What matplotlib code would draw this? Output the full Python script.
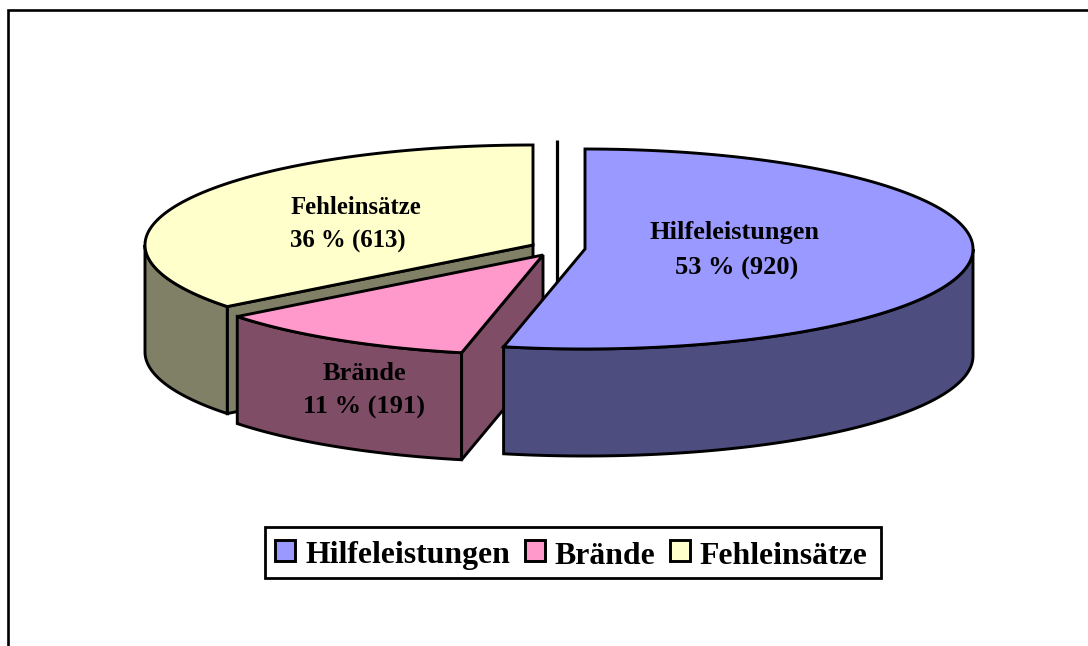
import numpy as np
import matplotlib
matplotlib.use("Agg")
import matplotlib.pyplot as plt
from matplotlib.patches import Polygon, Patch, Rectangle

categories = ["Hilfeleistungen", "Brände", "Fehleinsätze"]
values = [920, 191, 613]
percents = [53, 11, 36]
top_colors = ["#9999FF", "#FF99CC", "#FFFFCC"]
side_colors = ["#4D4D80", "#804D66", "#808066"]

# layout in pixels of the 1088x646 canvas
tips = [(585, 249), (543, 255), (533, 245)]
RX, RY, DEPTH = 388, 100, 107
LW = 2.1

fig = plt.figure(figsize=(10.88, 6.46), dpi=100)
ax = fig.add_axes([0, 0, 1, 1])
ax.set_xlim(0, 1088)
ax.set_ylim(646, 0)
ax.axis("off")

plt.rcParams["font.family"] = ["Liberation Serif", "DejaVu Serif"]

ax.plot([8, 8, 1088], [646, 10, 10], color="black", lw=1.9,
        solid_joinstyle="miter", zorder=1)

edges = np.cumsum([0] + values) / sum(values) * 2 * np.pi


def rim(tip, a, b):
    t = np.linspace(a, b, 200)
    return tip[0] + RX * np.sin(t), tip[1] - RY * np.cos(t)


def poly(xs, ys, color, z):
    ax.add_patch(Polygon(np.column_stack([xs, ys]), closed=True, facecolor=color,
                         edgecolor="black", lw=LW, joinstyle="miter", zorder=z))


def outer_wall(tip, a, b, color, z):
    x, y = rim(tip, a, b)
    poly(np.r_[x, x[::-1]], np.r_[y, y[::-1] + DEPTH], color, z)


def radial_wall(tip, a, color, z):
    x, y = rim(tip, a, a)
    ex, ey = x[0], y[0]
    poly([tip[0], ex, ex, tip[0]], [tip[1], ey, ey + DEPTH, tip[1] + DEPTH], color, z)


def top(tip, a, b, color, z):
    x, y = rim(tip, a, b)
    poly(np.r_[tip[0], x], np.r_[tip[1], y], color, z)


# Fehleinsätze (back piece)
radial_wall(tips[2], edges[2], side_colors[2], 2)
outer_wall(tips[2], edges[2], 1.5 * np.pi, side_colors[2], 2.1)
top(tips[2], edges[2], edges[3], top_colors[2], 2.2)
# Brände
outer_wall(tips[1], edges[1], edges[2], side_colors[1], 3)
radial_wall(tips[1], edges[1], side_colors[1], 3.1)
top(tips[1], edges[1], edges[2], top_colors[1], 3.2)
# vertical rule behind the blue piece
ax.plot([557, 557], [140, 283], color="black", lw=2.3, solid_capstyle="butt", zorder=3.5)
# Hilfeleistungen
outer_wall(tips[0], 0.5 * np.pi, edges[1], side_colors[0], 4)
top(tips[0], edges[0], edges[1], top_colors[0], 4.2)

label_pos = [((734, 233), (737, 268), 19), ((364, 374), (364, 407), 19), ((356, 207), (348, 241), 17.8)]
for cat, val, pct, (p1, p2, fs) in zip(categories, values, percents, label_pos):
    for pos, s in ((p1, cat), (p2, f"{pct} % ({val})")):
        ax.text(pos[0], pos[1], s, ha="center", va="center", fontsize=fs,
                fontweight="bold", family=["Liberation Serif", "DejaVu Serif"], zorder=6)

ax.add_patch(Rectangle((264.5, 526.5), 616.5, 51.5, facecolor="white", edgecolor="black",
                       lw=2.0, joinstyle="miter", zorder=6.5))
handles = [Patch(facecolor=c, edgecolor="black", lw=LW) for c in top_colors]
leg = ax.legend(handles, categories, loc="center", bbox_to_anchor=(571.5, 554),
                bbox_transform=ax.transData, ncol=3, frameon=False,
                borderpad=0.32, labelspacing=0,
                handlelength=0.62, handleheight=0.62, handletextpad=0.31, columnspacing=0.47,
                prop={"family": ["Liberation Serif", "DejaVu Serif"], "weight": "bold", "size": 22.9})
leg.set_zorder(7)
for t in leg.get_texts():
    t.set_y(-2)

fig.savefig("out.png", dpi=100)
